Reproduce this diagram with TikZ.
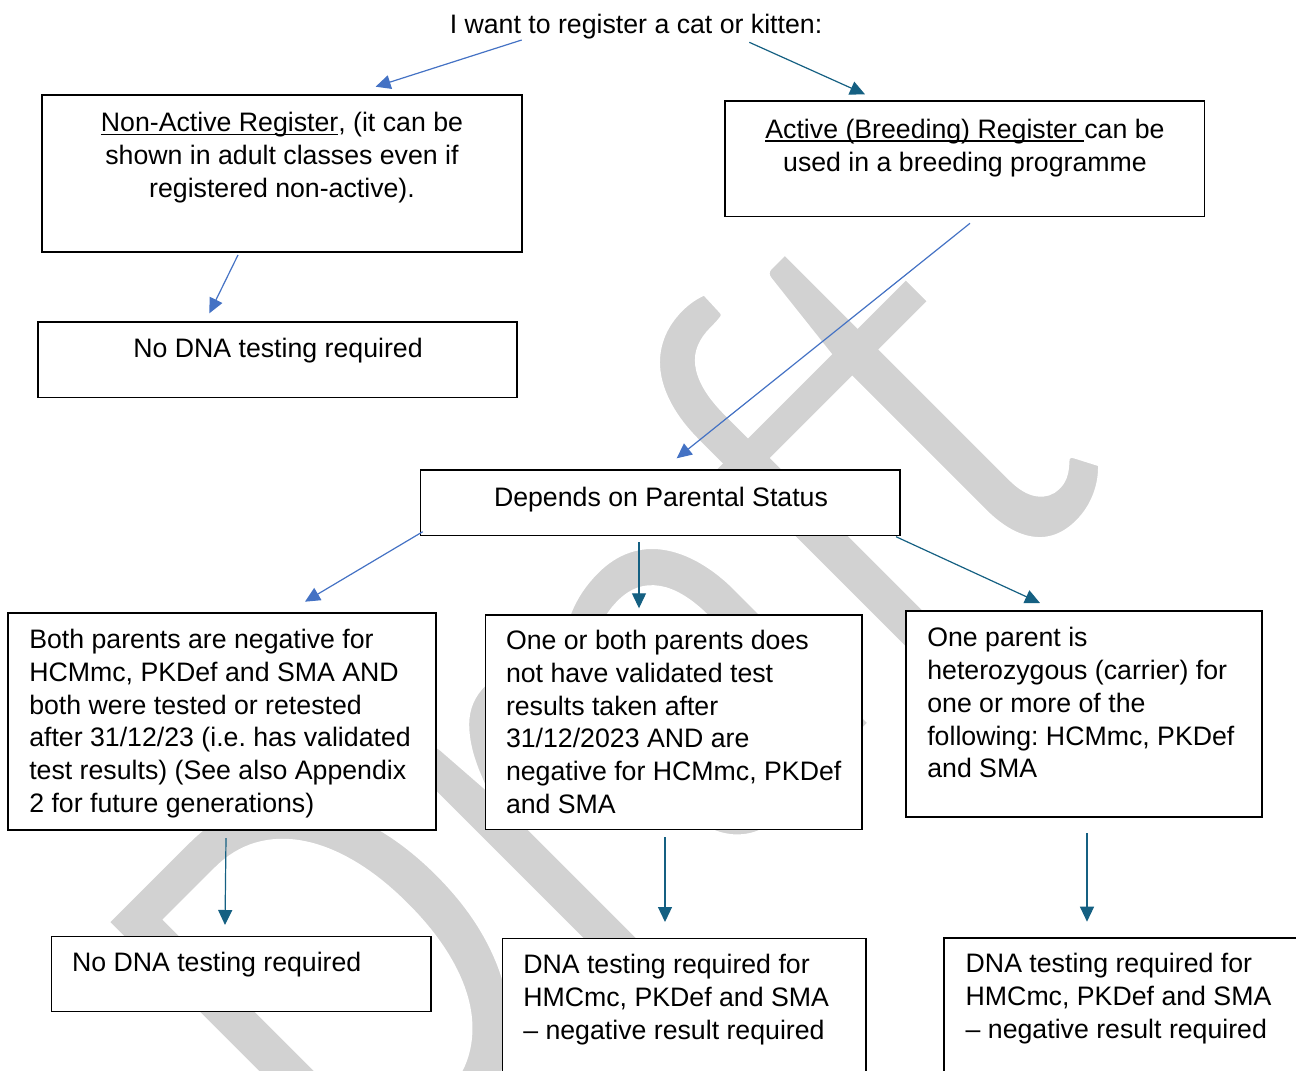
\documentclass[tikz,border=0pt]{standalone}
\usepackage{fontspec}
\usepackage{graphicx}
\setmainfont{Liberation Sans}
\newfontfamily\wmfont{Carlito}
\usetikzlibrary{arrows.meta}
\definecolor{arrblue}{RGB}{68,114,196}
\definecolor{arrteal}{RGB}{21,96,130}
\definecolor{wmgray}{RGB}{210,210,210}
\newcommand\dfont{\fontsize{26.7}{32.8}\selectfont\frenchspacing}
\newcommand\wul[1]{\setbox0\hbox{#1}\rlap{\rule[-3.2pt]{\wd0}{1.4pt}}\box0}
\newcommand\fs{\rule{0pt}{21pt}}
\frenchspacing
\begin{document}
\begin{tikzpicture}[x=1pt,y=-1pt,
  box/.style={draw=black, line width=1.8pt, fill=white, inner sep=0pt, outer sep=0pt, anchor=north west},
  txt/.style={inner sep=0pt, outer sep=0pt, font=\dfont, text=black},
  bluearr/.style={draw=arrblue, line width=1.2pt, -{Triangle[length=15pt,width=14pt]}},
  tealarr/.style={draw=arrteal, line width=1.2pt, -{Triangle[length=15pt,width=14pt]}}]
\useasboundingbox (0,0) rectangle (1296,1071);
\clip (0,0) rectangle (1296,1071);
% watermark
\node[rotate=45, anchor=base west, inner sep=0pt, text=wmgray] (wm) at (364,1233)
  {\special{pdf:literal direct 2 Tr 10 w 1 G}\scalebox{0.84}[1]{\wmfont\fontsize{630}{630}\selectfont Draft}\special{pdf:literal direct 0 Tr}};
% boxes
\node[box, minimum width=480pt, minimum height=157pt] (A) at (42,95) {};
\node[box, minimum width=479.5pt, minimum height=115.5pt] (B) at (725,101) {};
\node[box, minimum width=479pt, minimum height=75.5pt] (C) at (38,322) {};
\node[box, minimum width=479.5pt, minimum height=65.5pt] (D) at (420.5,470) {};
\node[box, minimum width=428pt, minimum height=217.2pt] (E) at (8,612.8) {};
\node[box, minimum width=376.5pt, minimum height=214.5pt] (F) at (485.5,615) {};
\node[box, minimum width=356pt, minimum height=206pt] (G) at (906,611) {};
\node[box, minimum width=379.5pt, minimum height=75pt] (H) at (51.5,936.5) {};
\node[box, minimum width=363.5pt, minimum height=170pt] (I) at (502.5,938.5) {};
\node[box, minimum width=375.7pt, minimum height=170pt] (J) at (944.3,938.3) {};
% texts
\node[txt, anchor=base] (title) at (636,33.3) {I want to register a cat or kitten:};
\node[txt, anchor=north, align=center] (tA) at (282,110.7)
  {\fs\wul{Non-Active Register}, (it can be\\shown in adult classes even if\\registered non-active).};
\node[txt, anchor=north, align=center] (tB) at (965,117.3)
  {\fs\wul{Active (Breeding) Register\ }can be\\used in a breeding programme};
\node[txt, anchor=north] (tC) at (278,336.5) {\fs No DNA testing required};
\node[txt, anchor=north] (tD) at (661,485) {\fs Depends on Parental Status};
\node[txt, anchor=north west, align=left] (tE) at (29.3,627.4)
  {\fs Both parents are negative for\\HCMmc, PKDef and SMA AND\\both were tested or retested\\after 31/12/23 (i.e. has validated\\test results) (See also Appendix\\2 for future generations)};
\node[txt, anchor=north west, align=left] (tF) at (506,628.5)
  {\fs One or both parents does\\not have validated test\\results taken after\\31/12/2023 AND are\\negative for HCMmc, PKDef\\and SMA};
\node[txt, anchor=north west, align=left] (tG) at (927.3,625.7)
  {\fs One parent is\\heterozygous (carrier) for\\one or more of the\\following: HCMmc, PKDef\\and SMA};
\node[txt, anchor=north west] (tH) at (72,950.8) {\fs No DNA testing required};
\node[txt, anchor=north west, align=left] (tI) at (523.3,952.5)
  {\fs DNA testing required for\\HMCmc, PKDef and SMA\\– negative result required};
\node[txt, anchor=north west, align=left] (tJ) at (965.7,951.7)
  {\fs DNA testing required for\\HMCmc, PKDef and SMA\\– negative result required};
% connectors
\draw[bluearr] ([shift={(-114.3,6.7)}]title.base) -- ([shift={(93.6,-8.3)}]A.north);
\draw[tealarr] ([shift={(113.3,9)}]title.base) -- ([shift={(-99.75,-6.7)}]B.north);
\draw[bluearr] ([shift={(-44,3)}]A.south) -- ([shift={(-68.1,-8.7)}]C.north);
\draw[bluearr] ([shift={(5.25,6.8)}]B.south) -- ([shift={(16.45,-11.7)}]D.north);
\draw[bluearr] ([shift={(2.2,-3.8)}]D.south west) -- ([shift={(83,-11.1)}]E.north);
\draw[tealarr] ([shift={(-21.25,6.8)}]D.south) -- ([shift={(-34.75,-6.7)}]F.north);
\draw[tealarr] ([shift={(-4,1.2)}]D.south east) -- ([shift={(-44,-8)}]G.north);
\draw[tealarr] ([shift={(4,8)}]E.south) -- ([shift={(-16.25,-11.5)}]H.north);
\draw[tealarr] ([shift={(-8.75,7.8)}]F.south) -- ([shift={(-19.25,-16.5)}]I.north);
\draw[tealarr] ([shift={(3,16.3)}]G.south) -- ([shift={(-45.15,-16.6)}]J.north);
\end{tikzpicture}
\end{document}
